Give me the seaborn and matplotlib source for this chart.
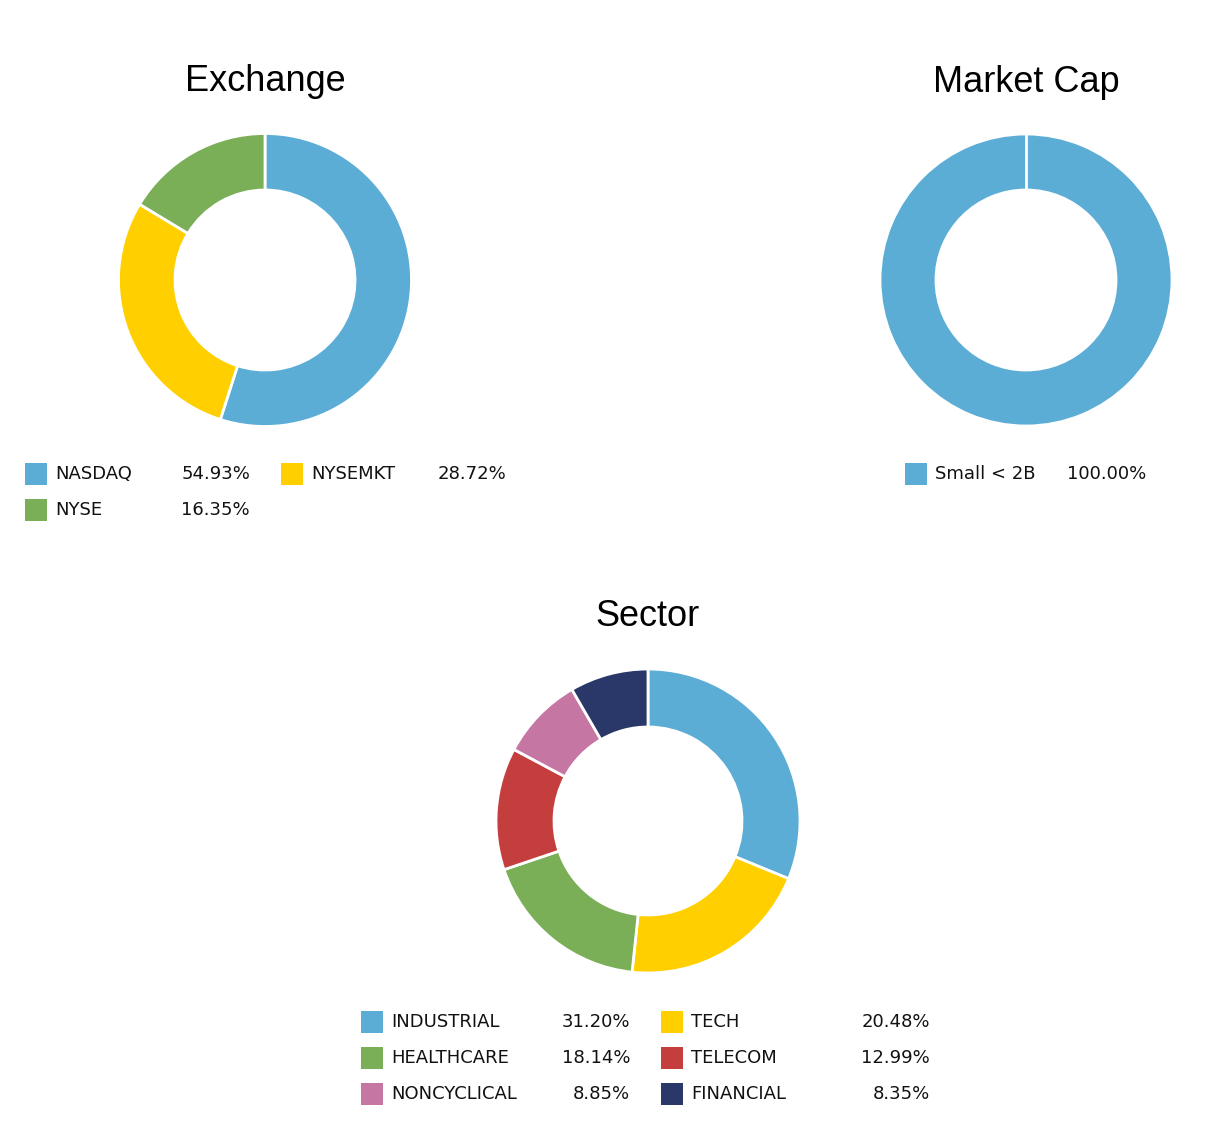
import matplotlib
matplotlib.use("Agg")
import matplotlib.pyplot as plt
import seaborn as sns
from matplotlib.patches import Rectangle

sns.set_theme(style="white")
plt.rcParams['font.family'] = ['DejaVu Sans']

# Dados
exchange_labels = ['NASDAQ', 'NYSEMKT', 'NYSE']
exchange_values = [54.93, 28.72, 16.35]

cap_labels = ['Small < 2B']
cap_values = [100.00]

sector_labels = ['INDUSTRIAL', 'TECH', 'HEALTHCARE', 'TELECOM', 'NONCYCLICAL', 'FINANCIAL']
sector_values = [31.20, 20.48, 18.14, 12.99, 8.85, 8.35]

colors = ['#5CADD6', '#FFCF00', '#7AAE57', '#C53E3E', '#C676A3', '#2A3769']
exchange_colors = [colors[0], colors[1], colors[2]]

W, H = 1212, 1128
fig = plt.figure(figsize=(W / 100, H / 100), dpi=100)
fig.patch.set_facecolor('white')


def donut(cx, cy, r_out, r_in, values, cols, title):
    # cx, cy em pixels (origem no topo)
    box = r_out + 6
    ax = fig.add_axes([(cx - box) / W, 1 - (cy + box) / H, 2 * box / W, 2 * box / H])
    ax.pie(values, colors=cols, startangle=90, counterclock=False, radius=1,
           wedgeprops=dict(width=1 - r_in / r_out, edgecolor='white', linewidth=2))
    if len(values) == 1:
        # separador branco no início da fatia única
        ax.plot([0, 0], [r_in / r_out, 1.01], color='white', lw=2)
    lim = box / r_out
    ax.set_xlim(-lim, lim)
    ax.set_ylim(-lim, lim)
    ax.set_aspect('equal')
    ax.axis('off')
    fig.text(cx / W, 1 - (cy - r_out - 52) / H, title, ha='center', va='center',
             fontsize=26, family='Liberation Sans', color='black')


def legend(items, cols, x0, y0, col_w, pct_off, row_h=36):
    for i, (lab, val) in enumerate(items):
        r, c = divmod(i, 2)
        x = x0 + c * col_w
        y = y0 + r * row_h
        fig.patches.append(Rectangle((x / W, 1 - (y + 11) / H), 22 / W, 22 / H,
                                     transform=fig.transFigure, color=cols[i], lw=0))
        fig.text((x + 30) / W, 1 - y / H, lab, ha='left', va='center',
                 fontsize=13, color='#111111')
        fig.text((x + pct_off) / W, 1 - y / H, f'{val:.2f}%', ha='right', va='center',
                 fontsize=13, color='#111111')


donut(265, 280, 146.5, 90, exchange_values, exchange_colors, 'Exchange')
donut(1026, 280, 146, 90, cap_values, [colors[0]], 'Market Cap')
donut(648, 821, 152, 94, sector_values, colors, 'Sector')

legend(list(zip(exchange_labels, exchange_values)), exchange_colors, 25, 474, 256, 225)
legend(list(zip(cap_labels, cap_values)), [colors[0]], 905, 474, 256, 241)
legend(list(zip(sector_labels, sector_values)), colors, 361, 1022, 300, 269)

fig.savefig('out.png', dpi=100, facecolor='white')
